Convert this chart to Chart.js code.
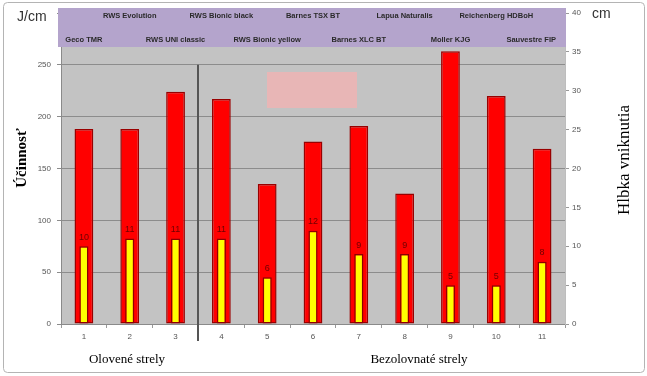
<!DOCTYPE html>
<html>
<head>
<meta charset="utf-8">
<title>Účinnosť striel</title>
<script src="https://cdn.jsdelivr.net/npm/chart.js@4.4.1/dist/chart.umd.min.js"></script>
<style>
  html, body { margin: 0; padding: 0; background: #fff; }
  #wrap { width: 647px; height: 376px; position: relative; }
</style>
</head>
<body>
<div id="wrap"><canvas id="chart" width="647" height="376"></canvas></div>
<script>
// Data
const categories = ['1', '2', '3', '4', '5', '6', '7', '8', '9', '10', '11'];
const shotNames = ['Geco TMR', 'RWS Evolution', 'RWS UNI classic', 'RWS Bionic black',
    'RWS Bionic yellow', 'Barnes TSX BT', 'Barnes XLC BT', 'Lapua Naturalis',
    'Moller KJG', 'Reichenberg HDBoH', 'Sauvestre FIP'];
const efficiency = [188, 188, 224, 217, 135, 176, 191, 126, 263, 220, 169]; // J/cm
const depth = [10, 11, 11, 11, 6, 12, 9, 9, 5, 5, 8];                        // cm
const groupLabels = ['Olovené strely', 'Bezolovnaté strely'];

// Extra drawing: frame, gray plot, purple name band, titles, value labels
const decorPlugin = {
    id: 'decor',
    beforeDraw(chart) {
        const ctx = chart.ctx;
        const area = chart.chartArea;
        ctx.save();
        // outer frame
        ctx.strokeStyle = '#b4b4b4';
        ctx.lineWidth = 1;
        ctx.beginPath();
        ctx.roundRect(3.5, 2.5, 641, 370, 4);
        ctx.stroke();
        // plot background
        ctx.fillStyle = '#c3c3c3';
        ctx.fillRect(area.left, area.top, area.right - area.left, area.bottom - area.top);
        // pale pink box
        ctx.fillStyle = '#e8b6b6';
        ctx.fillRect(267, 72, 90, 36);
        ctx.restore();
    },
    afterDatasetsDraw(chart) {
        const ctx = chart.ctx;
        const x = chart.scales.x;
        const y = chart.scales.y;
        const y2 = chart.scales.y2;
        ctx.save();
        // values above yellow bars
        ctx.fillStyle = '#6e0000';
        ctx.font = '9px Arial';
        ctx.textAlign = 'center';
        ctx.textBaseline = 'middle';
        depth.forEach((v, i) => {
            ctx.fillText(String(v), x.getPixelForValue(i), y2.getPixelForValue(v) - 9);
        });
        // divider between lead and lead-free shots
        const dx = Math.round((x.getPixelForValue(2) + x.getPixelForValue(3)) / 2);
        ctx.strokeStyle = '#555';
        ctx.lineWidth = 2;
        ctx.beginPath();
        ctx.moveTo(dx, y.getPixelForValue(250));
        ctx.lineTo(dx, chart.chartArea.bottom + 17);
        ctx.stroke();
        ctx.restore();
    },
    afterDraw(chart) {
        const ctx = chart.ctx;
        const area = chart.chartArea;
        const x = chart.scales.x;
        ctx.save();
        // purple band with shot names
        const bandLeft = area.left - 3;
        const bandRight = area.right + 1;
        ctx.fillStyle = '#b4a4cc';
        ctx.fillRect(bandLeft, 8, bandRight - bandLeft, 39);
        ctx.fillStyle = '#2a2a2a';
        ctx.font = 'bold 7.5px Arial';
        ctx.textAlign = 'center';
        ctx.textBaseline = 'middle';
        shotNames.forEach((name, i) => {
            const w = ctx.measureText(name).width;
            const cx = Math.min(x.getPixelForValue(i), bandRight - 10 - w / 2);
            ctx.fillText(name, cx, i % 2 === 0 ? 40 : 16);
        });
        // units
        ctx.fillStyle = '#333';
        ctx.font = '14px Arial';
        ctx.textAlign = 'left';
        ctx.fillText('J/cm', 17, 17);
        ctx.fillText('cm', 592, 14);
        // axis titles
        ctx.fillStyle = '#000';
        ctx.textAlign = 'center';
        ctx.save();
        ctx.translate(22, 158);
        ctx.rotate(-Math.PI / 2);
        ctx.font = 'bold 15px "Liberation Serif", "Times New Roman", serif';
        ctx.fillText('Účinnosť', 0, 0);
        ctx.restore();
        ctx.save();
        ctx.translate(625, 160);
        ctx.rotate(-Math.PI / 2);
        ctx.font = '17px "Liberation Serif", "Times New Roman", serif';
        ctx.fillText('Hlbka vniknutia', 0, 0);
        ctx.restore();
        // group labels
        ctx.font = '13px "Liberation Serif", "Times New Roman", serif';
        ctx.fillText(groupLabels[0], 127, 360);
        ctx.fillText(groupLabels[1], 419, 360);
        ctx.restore();
    }
};

const ctx = document.getElementById('chart');
new Chart(ctx, {
    type: 'bar',
    data: {
        labels: categories,
        datasets: [{
            label: 'Hĺbka vniknutia',
            data: depth,
            yAxisID: 'y2',
            order: 0,
            grouped: false,
            backgroundColor: '#ffff00',
            borderColor: '#8b0000',
            borderWidth: 1.5,
            borderSkipped: false,
            categoryPercentage: 1,
            barPercentage: 0.2
        }, {
            label: 'Účinnosť',
            data: efficiency,
            yAxisID: 'y',
            order: 1,
            grouped: false,
            backgroundColor: '#ff0000',
            borderColor: '#990000',
            borderWidth: 1.5,
            borderSkipped: false,
            categoryPercentage: 1,
            barPercentage: 0.41
        }]
    },
    options: {
        responsive: false,
        animation: false,
        layout: { padding: { top: 13 } },
        plugins: {
            legend: { display: false },
            tooltip: { enabled: false }
        },
        scales: {
            x: {
                offset: true,
                grid: { offset: true, drawOnChartArea: false, tickLength: 4, color: '#999' },
                border: { color: '#8a8a8a' },
                ticks: { color: '#555', font: { size: 8, family: 'Arial' }, padding: 4 },
                afterFit: scale => { scale.height = 52; }
            },
            y: {
                position: 'left',
                min: 0,
                max: 300,
                grid: { color: '#8c8c8c', tickLength: 4 },
                border: { color: '#8a8a8a' },
                ticks: {
                    stepSize: 50,
                    color: '#555',
                    font: { size: 8, family: 'Arial' },
                    padding: 6,
                    callback: v => (v === 300 ? '' : v)
                },
                afterFit: scale => { scale.width = 61; }
            },
            y2: {
                position: 'right',
                min: 0,
                max: 40,
                grid: { drawOnChartArea: false, tickLength: 4, color: '#999' },
                border: { color: '#bdbdbd' },
                ticks: { stepSize: 5, color: '#555', font: { size: 8, family: 'Arial' }, padding: 3 },
                afterFit: scale => { scale.width = 82; }
            }
        }
    },
    plugins: [decorPlugin]
});
</script>
</body>
</html>
